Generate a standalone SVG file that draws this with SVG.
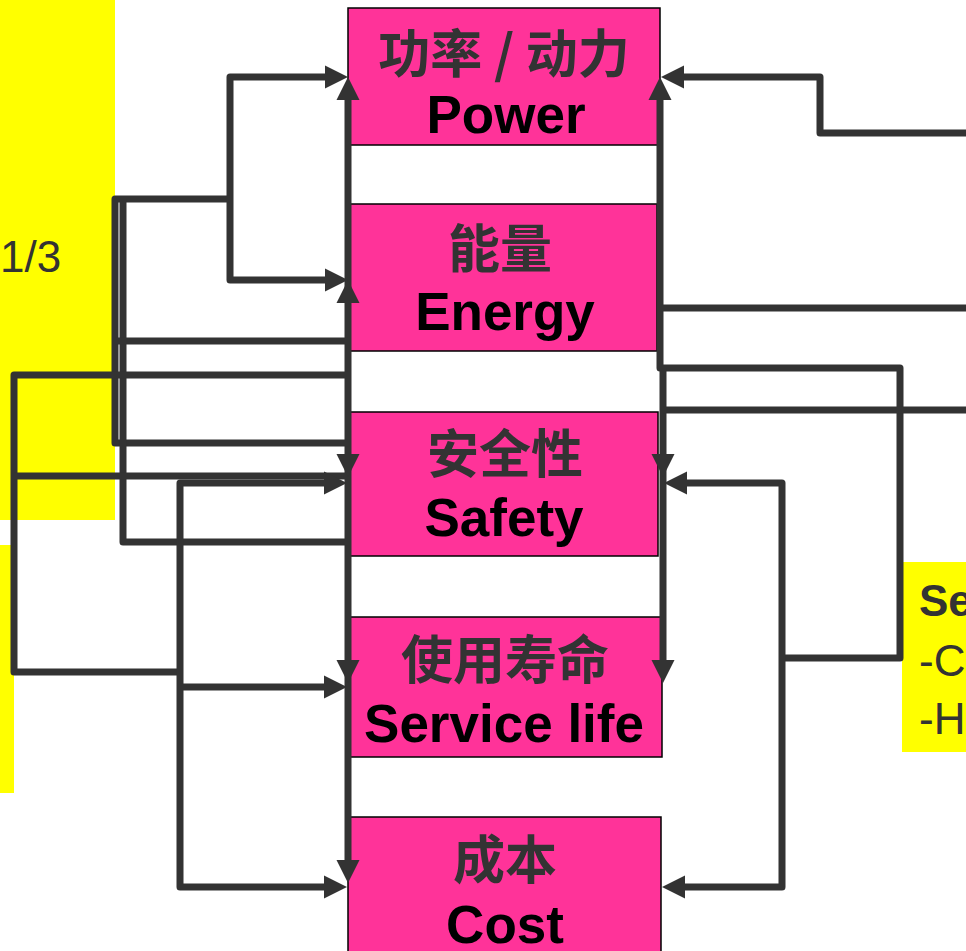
<svg xmlns="http://www.w3.org/2000/svg" xmlns:xlink="http://www.w3.org/1999/xlink" width="966" height="951" viewBox="0 0 966 951">
<style>
.box{fill:#FF3399;stroke:#000;stroke-width:1.5}
.cn{font-family:"Noto Sans CJK SC","Noto Sans CJK JP",sans-serif;font-weight:bold;font-size:52px;fill:#333;text-anchor:middle}
.en{font-family:"Liberation Sans",Arial,sans-serif;font-weight:bold;font-size:53px;fill:#000;text-anchor:middle}
.note{font-family:"Liberation Sans",Arial,sans-serif;font-size:44px;fill:#333}
.ln{fill:none;stroke:#333;stroke-width:7;stroke-linejoin:round}
.ah{fill:#333}
</style>
<defs>
<path id="ah" d="M0,0 L-23,-11.5 L-23,11.5 Z"/>
</defs>
<rect width="966" height="951" fill="#fff"/>
<g id="notes">
<rect x="0" y="0" width="115" height="520" fill="#FFFF00"/>
<rect x="0" y="545" width="14" height="248" fill="#FFFF00"/>
<text class="note" x="0" y="272" font-size="46">1/3</text>
<rect x="902" y="562" width="64" height="190" fill="#FFFF00"/>
<text class="note" x="919" y="616" font-weight="bold">Se</text>
<text class="note" x="919" y="676">-C</text>
<text class="note" x="919" y="734">-H</text>
</g>
<g id="power">
<rect class="box" x="348" y="8" width="312" height="137"/>
<text class="cn" x="504" y="73">功率 / 动力</text>
<text class="en" x="506" y="133">Power</text>
</g>
<g id="energy">
<rect class="box" x="348" y="204" width="309" height="147"/>
<text class="cn" x="500" y="268">能量</text>
<text class="en" x="505" y="330">Energy</text>
</g>
<g id="safety">
<rect class="box" x="348" y="412" width="310" height="144"/>
<text class="cn" x="505" y="473">安全性</text>
<text class="en" x="504" y="536">Safety</text>
</g>
<g id="servicelife">
<rect class="box" x="350" y="617" width="312" height="140"/>
<text class="cn" x="505" y="679">使用寿命</text>
<text class="en" x="504" y="742">Service life</text>
</g>
<g id="cost">
<rect class="box" x="348" y="817" width="313" height="150"/>
<text class="cn" x="505" y="879">成本</text>
<text class="en" x="505" y="943">Cost</text>
</g>
<g id="connectors">
<path class="ln" d="M348,95 V870"/>
<path class="ln" d="M330,77 H230 V280 H330"/>
<path class="ln" d="M230,199 H115 V443 H348"/>
<path class="ln" d="M123,199 V542 H348"/>
<path class="ln" d="M115,341 H348"/>
<path class="ln" d="M348,375 H14 V672 H180"/>
<path class="ln" d="M14,476 H348"/>
<path class="ln" d="M330,483 H180 V887 H330"/>
<path class="ln" d="M180,687 H330"/>
<path class="ln" d="M660,95 V368 H900 V658 H782"/>
<path class="ln" d="M663,368 V670"/>
<path class="ln" d="M680,77 H820 V133 H966"/>
<path class="ln" d="M660,308 H966"/>
<path class="ln" d="M663,410 H966"/>
<path class="ln" d="M682,483 H782 V887 H680"/>
<use class="ah" xlink:href="#ah" transform="translate(348,77) rotate(-90)"/>
<use class="ah" xlink:href="#ah" transform="translate(348,280) rotate(-90)"/>
<use class="ah" xlink:href="#ah" transform="translate(348,77)"/>
<use class="ah" xlink:href="#ah" transform="translate(348,280)"/>
<use class="ah" xlink:href="#ah" transform="translate(348,477) rotate(90)"/>
<use class="ah" xlink:href="#ah" transform="translate(348,683) rotate(90)"/>
<use class="ah" xlink:href="#ah" transform="translate(348,883) rotate(90)"/>
<use class="ah" xlink:href="#ah" transform="translate(347,483)"/>
<use class="ah" xlink:href="#ah" transform="translate(347,687)"/>
<use class="ah" xlink:href="#ah" transform="translate(347,887)"/>
<use class="ah" xlink:href="#ah" transform="translate(660,77) rotate(-90)"/>
<use class="ah" xlink:href="#ah" transform="translate(661,77) rotate(180)"/>
<use class="ah" xlink:href="#ah" transform="translate(663,477) rotate(90)"/>
<use class="ah" xlink:href="#ah" transform="translate(663,683) rotate(90)"/>
<use class="ah" xlink:href="#ah" transform="translate(664,483) rotate(180)"/>
<use class="ah" xlink:href="#ah" transform="translate(662,887) rotate(180)"/>
</g>
</svg>
